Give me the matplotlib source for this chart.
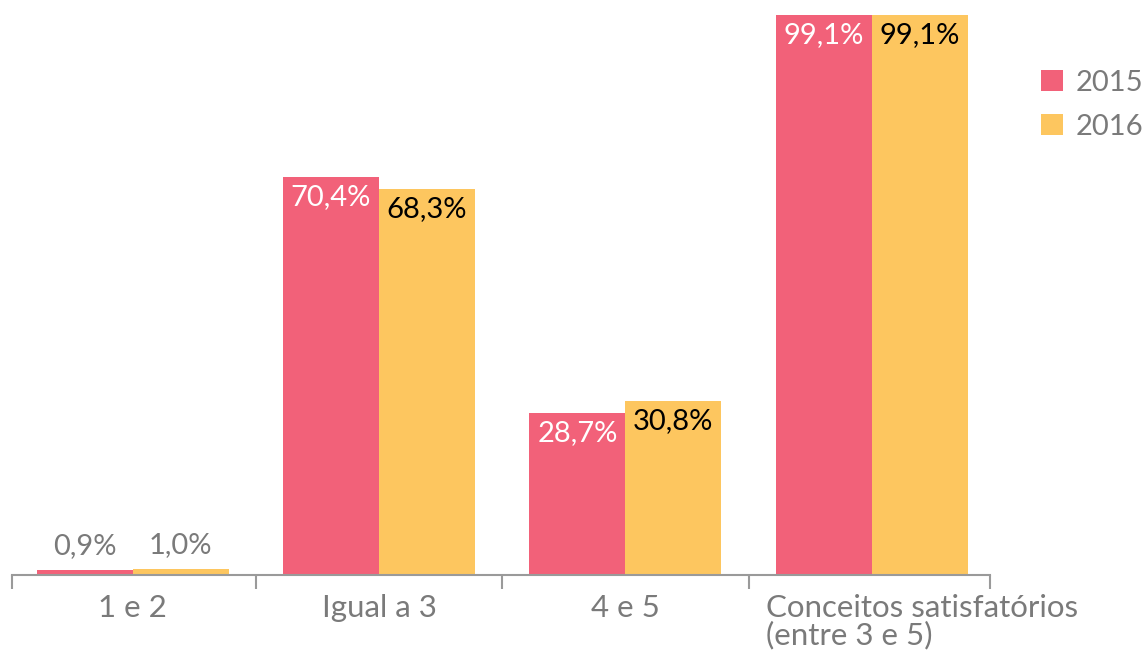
import matplotlib
matplotlib.use("Agg")
import matplotlib.pyplot as plt
import matplotlib.transforms as mtransforms

categories = ["1 e 2", "Igual a 3", "4 e 5", "Conceitos satisfatórios\n(entre 3 e 5)"]
years = ["2015", "2016"]
v2015 = [0.9, 70.4, 28.7, 99.1]
v2016 = [1.0, 68.3, 30.8, 99.1]

pink = "#F26179"
yellow = "#FDC65F"
gray = "#7a7a7a"
axis_gray = "#9a9a9a"

plt.rcParams['font.family'] = ['Lato', 'DejaVu Sans']

W, H = 1145, 652
fig = plt.figure(figsize=(W / 100, H / 100), dpi=100)
ax = fig.add_axes([12 / W, 77 / H, (990 - 12) / W, 565 / H])

x = list(range(len(categories)))
bw = 0.39
b1 = ax.bar([i - bw / 2 for i in x], v2015, width=bw, color=pink, label=years[0])
b2 = ax.bar([i + bw / 2 for i in x], v2016, width=bw, color=yellow, label=years[1])

ax.set_xlim(-0.49, 3.48)
ax.set_ylim(0, 100)

for s in ["top", "right", "left"]:
    ax.spines[s].set_visible(False)
ax.spines["bottom"].set_color(axis_gray)
ax.spines["bottom"].set_linewidth(1.5)
ax.set_yticks([])

ax.set_xticks([-0.49, 0.5, 1.5, 2.5, 3.48], minor=True)
ax.tick_params(axis="x", which="minor", length=10, width=1.5, color=axis_gray, direction="out")
ax.set_xticks(x)
ax.set_xticklabels(categories[:3] + [""], fontsize=22.5, color=gray)
ax.tick_params(axis="x", which="major", length=0, pad=14)

ax.text(2.5 + 0.07, -0.033, categories[3],
        transform=mtransforms.blended_transform_factory(ax.transData, ax.transAxes),
        ha="left", va="top", fontsize=22.5, color=gray, linespacing=0.98)

def fmt(v):
    return f"{v:.1f}%".replace(".", ",")

for bars, vals, col in [(b1, v2015, "white"), (b2, v2016, "black")]:
    for r, v in zip(bars, vals):
        cx = r.get_x() + r.get_width() / 2
        if v < 5:
            ax.annotate(fmt(v), (cx, v), xytext=(0, 8), textcoords="offset points",
                        ha="center", va="bottom", fontsize=21, color=gray)
        else:
            ax.annotate(fmt(v), (cx, v), xytext=(0, -5), textcoords="offset points",
                        ha="center", va="top", fontsize=21, color=col)

leg = ax.legend(loc="upper left", bbox_to_anchor=(1.040, 0.915), frameon=False, fontsize=21,
                handlelength=0.75, handleheight=0.75, handletextpad=0.45, labelspacing=0.62,
                borderaxespad=0)
for t in leg.get_texts():
    t.set_color(gray)

fig.savefig("out.png", dpi=100)
